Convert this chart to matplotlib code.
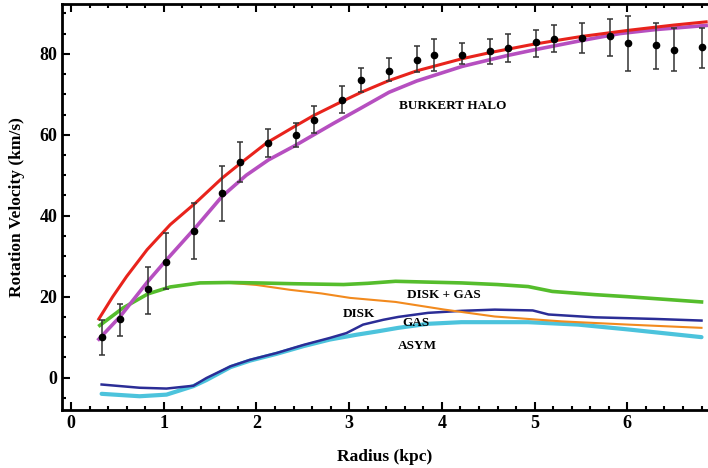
import numpy as np
import matplotlib
matplotlib.use("Agg")
import matplotlib.pyplot as plt
from matplotlib.ticker import MultipleLocator

# observed rotation curve (radius kpc, velocity km/s, lower/upper end of error bar)
r_obs = [0.33, 0.53, 0.83, 1.02, 1.33, 1.63, 1.82, 2.12, 2.43, 2.62, 2.92, 3.13, 3.43,
         3.73, 3.92, 4.22, 4.52, 4.71, 5.02, 5.21, 5.51, 5.81, 6.01, 6.31, 6.50, 6.81]
v_obs = [10.1, 14.6, 22.0, 28.6, 36.3, 45.7, 53.3, 58.0, 60.0, 63.7, 68.6, 73.6, 75.8,
         78.5, 79.8, 79.8, 80.7, 81.5, 83.0, 83.7, 84.0, 84.4, 82.7, 82.2, 81.0, 81.7]
v_lo = [5.7, 10.4, 15.6, 22.0, 29.4, 38.8, 48.4, 54.6, 57.0, 60.5, 65.5, 70.6, 73.3,
        75.5, 75.8, 77.5, 77.5, 78.0, 79.3, 80.5, 80.2, 79.5, 75.8, 76.3, 75.8, 76.5]
v_hi = [14.3, 18.2, 27.4, 35.8, 43.2, 52.3, 58.3, 61.5, 63.0, 67.0, 72.0, 76.5, 79.0,
        82.0, 83.7, 82.7, 83.7, 85.0, 86.0, 87.0, 87.6, 88.6, 89.4, 87.7, 86.4, 86.4]

# total model (red)
r_tot = [0.30, 0.45, 0.60, 0.82, 1.07, 1.34, 1.63, 1.83, 2.11, 2.43, 2.62, 2.92, 3.13, 3.43,
         3.73, 4.22, 4.52, 4.95, 5.21, 5.51, 5.81, 6.01, 6.31, 6.50, 6.85]
v_tot = [14.5, 20.0, 25.0, 31.6, 37.8, 43.1, 49.3, 53.0, 58.0, 62.3, 64.8, 68.2, 70.5, 73.4,
         75.8, 78.8, 80.3, 82.2, 83.2, 84.3, 85.2, 85.8, 86.6, 87.1, 87.9]

# burkert halo (magenta)
r_halo = [0.30, 0.53, 0.83, 1.03, 1.34, 1.63, 1.89, 2.13, 2.43, 2.83, 3.12, 3.43, 3.73,
          4.22, 4.71, 5.00, 5.51, 5.92, 6.31, 6.85]
v_halo = [9.5, 15.1, 23.8, 29.1, 37.0, 44.8, 50.0, 53.8, 57.5, 62.8, 66.5, 70.5, 73.3,
          76.9, 79.6, 81.0, 83.3, 85.0, 86.0, 87.0]

# disk + gas (green)
r_dg = [0.31, 0.56, 0.83, 1.07, 1.39, 1.70, 2.00, 2.40, 2.94, 3.20, 3.50, 3.85, 4.21,
        4.60, 4.93, 5.19, 5.65, 6.00, 6.37, 6.80]
v_dg = [12.9, 17.2, 20.7, 22.4, 23.4, 23.5, 23.4, 23.2, 23.0, 23.3, 23.8, 23.6, 23.4,
        23.0, 22.5, 21.3, 20.5, 20.0, 19.4, 18.7]

# disk (orange)
r_disk = [0.31, 0.56, 0.83, 1.07, 1.39, 1.72, 2.00, 2.36, 2.70, 3.01, 3.50, 4.03, 4.57,
          5.29, 6.01, 6.80]
v_disk = [12.9, 17.2, 20.7, 22.4, 23.4, 23.4, 22.9, 21.7, 20.8, 19.7, 18.7, 16.8, 15.1,
          13.9, 13.1, 12.3]

# gas (blue)
r_gas = [0.33, 0.74, 1.03, 1.32, 1.46, 1.72, 1.93, 2.22, 2.51, 2.79, 2.97, 3.15, 3.37,
         3.53, 3.85, 4.21, 4.57, 4.98, 5.15, 5.65, 6.30, 6.80]
v_gas = [-1.7, -2.5, -2.7, -2.0, -0.1, 2.8, 4.4, 6.1, 8.1, 9.8, 11.0, 13.1, 14.3,
         15.0, 16.0, 16.5, 16.8, 16.6, 15.6, 14.9, 14.5, 14.1]

# asymmetric drift (cyan)
r_asym = [0.33, 0.74, 1.03, 1.32, 1.46, 1.72, 1.93, 2.22, 2.51, 2.79, 3.08, 3.30, 3.53,
          3.85, 4.21, 4.93, 5.47, 6.01, 6.80]
v_asym = [-4.0, -4.6, -4.2, -2.1, -0.6, 2.6, 4.2, 5.9, 7.8, 9.4, 10.6, 11.4, 12.3,
          13.3, 13.7, 13.7, 13.1, 11.9, 10.0]

labels = ["BURKERT HALO", "DISK + GAS", "DISK", "GAS", "ASYM"]
label_x = [3.54, 3.62, 2.93, 3.57, 3.53]
label_y = [67.0, 20.5, 15.7, 13.6, 7.7]

plt.rcParams['font.family'] = ['Liberation Serif', 'DejaVu Serif']
plt.rcParams['font.weight'] = 'bold'

fig = plt.figure(figsize=(7.08, 4.68), dpi=100)
ax = fig.add_axes([0.0876, 0.1239, 0.9124, 0.8675])

ax.plot(r_asym, v_asym, color='#4cc3dc', lw=3.0, solid_capstyle='round')
ax.plot(r_gas, v_gas, color='#2b2d96', lw=1.8)
ax.plot(r_disk, v_disk, color='#f28a1e', lw=1.5)
ax.plot(r_dg, v_dg, color='#55bd2c', lw=2.6)
ax.plot(r_halo, v_halo, color='#b64fc0', lw=2.6)
ax.plot(r_tot, v_tot, color='#e8231c', lw=2.2)

err = [np.subtract(v_obs, v_lo), np.subtract(v_hi, v_obs)]
ax.errorbar(r_obs, v_obs, yerr=err, fmt='o', color='black', ms=4.5, ecolor='#333333',
            elinewidth=1.1, capsize=2.5, capthick=1.1, zorder=5)

for t, x, y in zip(labels, label_x, label_y):
    ax.text(x, y, t, fontsize=9.5, fontweight='bold', va='center', ha='left')

ax.set_xlim(-0.097, 6.87)
ax.set_ylim(-8, 92.3)
ax.xaxis.set_major_locator(MultipleLocator(1))
ax.xaxis.set_minor_locator(MultipleLocator(0.2))
ax.yaxis.set_major_locator(MultipleLocator(20))
ax.yaxis.set_minor_locator(MultipleLocator(5))
ax.tick_params(which='both', direction='in', top=True, right=False, width=1.5,
               labelsize=13)
ax.tick_params(which='major', length=6)
ax.tick_params(which='minor', length=3)
for s in ['left', 'bottom', 'top']:
    ax.spines[s].set_linewidth(2)
ax.spines['right'].set_visible(False)

ax.set_xlabel("Radius (kpc)", fontsize=12.5, fontweight='bold', labelpad=12)
ax.set_ylabel("Rotation Velocity (km/s)", fontsize=12.5, fontweight='bold', labelpad=10)
ax.yaxis.label.set_fontstretch('expanded')

fig.savefig("out.png", dpi=100)
